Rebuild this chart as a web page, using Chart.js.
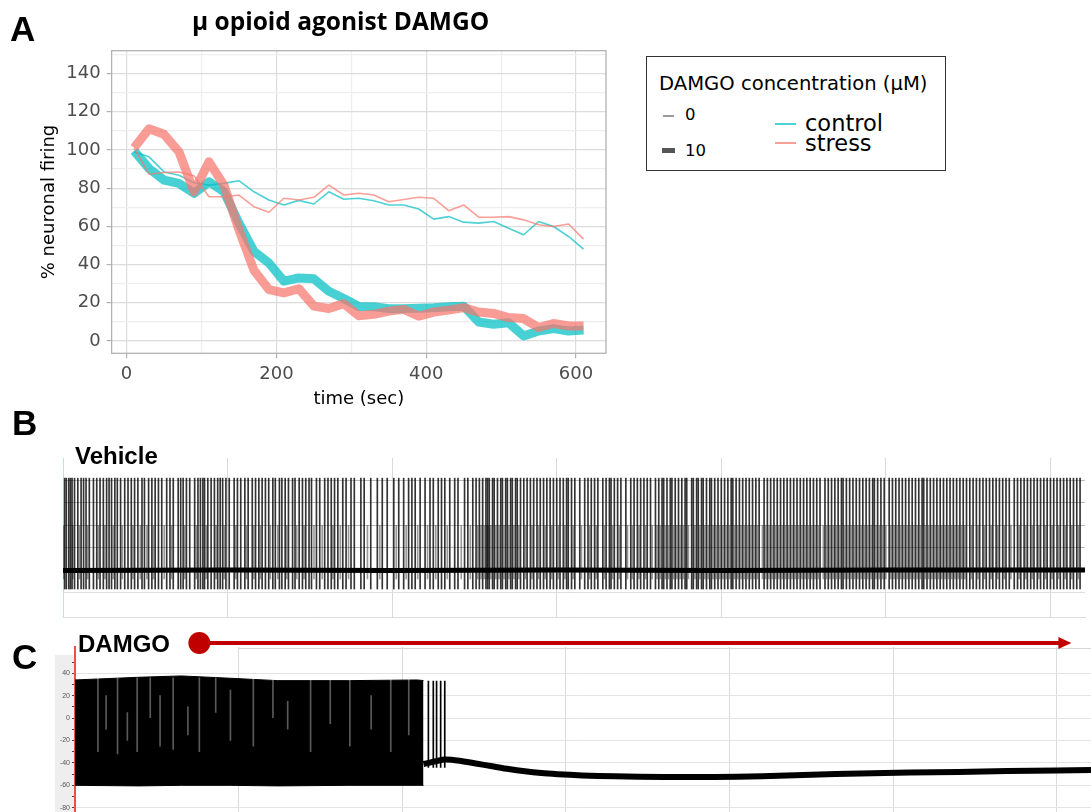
<!DOCTYPE html>
<html>
<head>
<meta charset="utf-8">
<script src="https://cdn.jsdelivr.net/npm/chart.js@4.4.0/dist/chart.umd.min.js"></script>
<style>
  body { margin: 0; background: #fff; width: 1091px; height: 812px; position: relative; overflow: hidden; font-family: "Liberation Sans", Arial, sans-serif; }
  canvas { position: absolute; left: 0; }
  .lbl { position: absolute; white-space: nowrap; line-height: 1; color: #000; }
  .panel { font-weight: bold; font-size: 35px; }
  .trace { font-weight: bold; font-size: 24px; }
  .legend { position: absolute; left: 646px; top: 56px; width: 298px; height: 113px; border: 1px solid #333; }
  .lg { position: absolute; white-space: nowrap; line-height: 1; font-family: "DejaVu Sans", sans-serif; color: #000; }
  .sw { position: absolute; }
</style>
</head>
<body>
<canvas id="chartA" width="640" height="415" style="top:0"></canvas>
<canvas id="chartB" width="1091" height="185" style="top:440px"></canvas>
<canvas id="chartC" width="1091" height="193" style="top:625px"></canvas>

<div class="lbl panel" style="left:10px;top:11px">A</div>
<div class="lbl" style="left:192px;top:9px;font-family:'Open Sans',sans-serif;font-weight:bold;font-size:24.5px">μ opioid agonist DAMGO</div>

<div class="legend"></div>
<div class="lg" style="left:659px;top:74px;font-size:19.6px">DAMGO concentration (μM)</div>
<div class="sw" style="left:663px;top:115px;width:11px;height:1.5px;background:#9a9a9a"></div>
<div class="lg" style="left:685px;top:107px;font-size:16.5px">0</div>
<div class="sw" style="left:662px;top:148px;width:13px;height:5px;background:#555"></div>
<div class="lg" style="left:685px;top:143px;font-size:16.5px">10</div>
<div class="sw" style="left:775px;top:123px;width:21px;height:1.5px;background:rgba(0,191,196,0.7)"></div>
<div class="lg" style="left:805px;top:112px;font-size:22.5px">control</div>
<div class="sw" style="left:775px;top:142px;width:21px;height:1.5px;background:rgba(248,118,109,0.7)"></div>
<div class="lg" style="left:805px;top:132px;font-size:22.5px">stress</div>

<div class="lbl panel" style="left:12px;top:405px">B</div>
<div class="lbl trace" style="left:75px;top:444px">Vehicle</div>

<div class="lbl panel" style="left:12px;top:639px">C</div>
<div class="lbl trace" style="left:78px;top:632px">DAMGO</div>

<script>
  // ---------- panel A : % neuronal firing ----------
  const timeSec = [10, 30, 50, 70, 90, 110, 130, 150, 170, 190, 210, 230, 250, 270, 290, 310, 330, 350, 370, 390, 410, 430, 450, 470, 490, 510, 530, 550, 570, 590, 610];
  const control0 = [99, 96.4, 88.5, 86.8, 82.8, 81.6, 82.5, 83.9, 78.1, 73.8, 71.2, 73.6, 71.7, 78.1, 74.2, 74.7, 73.4, 71.2, 71.2, 69.1, 63.8, 65.1, 62.2, 61.7, 62.5, 59, 55.6, 62.5, 59.9, 54.7, 48.1];
  const stress0 = [101, 87.3, 88.2, 88.5, 86.5, 75.5, 75.5, 76.4, 70.3, 67.4, 74.7, 73.8, 75.2, 81.6, 76.4, 77.3, 76.4, 72.9, 74.1, 75.2, 74.7, 68.2, 71.2, 64.8, 64.8, 65.1, 63.4, 60.8, 59.9, 61.2, 53.3];
  const control10 = [99.5, 90.3, 84.2, 82.5, 77.3, 83.3, 78.1, 61.7, 46.9, 40.8, 31.3, 33, 32.5, 26, 22.2, 18, 17.9, 16.9, 16.9, 17.1, 17.4, 17.9, 18.2, 9.9, 8.7, 9.5, 2.6, 5.2, 6.4, 5.2, 5.7];
  const stress10 = [101.2, 111.1, 108.2, 99, 78.1, 93.8, 81.6, 58.2, 37, 26.9, 25.2, 27.3, 18.2, 17, 19.5, 13.2, 13.9, 15.6, 16.5, 13, 15.1, 16.1, 17.4, 15.1, 14.4, 12.2, 11.7, 7, 9.1, 7.8, 7.8];
  const xTicksA = [0, 100, 200, 300, 400, 500, 600];
  const xLabelsA = [0, 200, 400, 600];
  const yTicksA = [0, 10, 20, 30, 40, 50, 60, 70, 80, 90, 100, 110, 120, 130, 140, 150];
  const yLabelsA = [0, 20, 40, 60, 80, 100, 120, 140];

  // ---------- panel B : vehicle trace (s, mV) ----------
  const spikeTimesB = [0.1, 0.2, 0.35, 0.45, 0.55, 0.7, 0.9, 1.1, 1.25, 1.4, 1.6, 1.85, 2.05, 2.25, 2.45, 2.65, 2.8, 2.95, 3.15, 3.3, 3.5, 3.75, 3.95, 4.15, 4.35, 4.55, 4.8, 4.95, 5.2, 5.4, 5.6, 5.8, 6.0, 6.3, 6.5, 6.7, 7.0, 7.15, 7.3, 7.5, 7.7, 8.0, 8.2, 8.35, 8.5, 8.6, 8.8, 9.0, 9.2, 9.4, 9.55, 9.7, 9.9, 10.1, 10.4, 10.6, 10.8, 11.05, 11.25, 11.5, 11.7, 11.9, 12.1, 12.3, 12.5, 12.75, 12.9, 13.15, 13.3, 13.5, 13.7, 13.95, 14.1, 14.35, 14.55, 14.75, 14.95,
    15.1, 15.4, 15.6, 15.9, 16.1, 16.3, 16.5, 16.7, 17.0, 17.2, 17.5, 17.7, 18.1, 18.3, 18.7, 19.1, 19.4, 19.7, 20.1, 20.4, 20.7, 21.0, 21.2, 21.4, 21.7, 22.0, 22.3, 22.5, 22.8, 23.0, 23.2, 23.5, 23.8, 24.0, 24.4, 24.6, 24.9, 25.1, 25.3, 25.5, 25.7, 25.8, 25.9, 26.1, 26.2, 26.4, 26.6, 26.7, 26.9, 27.0, 27.2, 27.3, 27.5, 27.6, 27.8, 28.0, 28.2, 28.4, 28.6, 28.8, 29.0, 29.2, 29.4, 29.6, 29.8, 30.0, 30.2, 30.4, 30.6,
    30.7, 30.9, 31.1, 31.4, 31.7, 31.9, 32.1, 32.3, 32.5, 32.8, 33.0, 33.2, 33.3, 33.5, 33.7, 33.9, 34.2, 34.5, 34.7, 34.9, 35.1, 35.3, 35.5, 35.7, 36.0, 36.2, 36.4, 36.5, 36.7, 36.9, 37.0, 37.2, 37.4, 37.6, 37.8, 37.9, 38.2, 38.3, 38.5, 38.6, 38.8, 38.9, 39.1, 39.3, 39.4, 39.6, 39.8, 40.0, 40.2, 40.4, 40.6, 40.7, 40.9, 41.1, 41.3, 41.5, 41.7, 41.9, 42.1, 42.3, 42.6, 42.8, 43.0, 43.2, 43.4, 43.6, 43.8, 44.0, 44.2, 44.4, 44.6, 44.8, 45.0, 45.2, 45.4, 45.6, 45.8, 46.0,
    46.3, 46.5, 46.7, 46.9, 47.1, 47.3, 47.4, 47.6, 47.8, 48.0, 48.2, 48.4, 48.6, 48.8, 49.0, 49.2, 49.3, 49.5, 49.7, 49.9, 50.2, 50.4, 50.6, 50.8, 51.0, 51.2, 51.4, 51.6, 51.8, 52.0, 52.2, 52.3, 52.5, 52.7, 52.9, 53.1, 53.3, 53.5, 53.7, 53.9, 54.1, 54.3, 54.5, 54.7, 54.9, 55.1, 55.3, 55.5, 55.7, 55.9, 56.1, 56.3, 56.5, 56.7, 56.9, 57.1, 57.3, 57.5, 57.8, 58.0, 58.2, 58.4, 58.6, 58.8, 59.0, 59.2, 59.4, 59.6, 59.8, 60.0, 60.2, 60.4, 60.6, 60.8, 61.0, 61.2, 61.4, 61.6, 61.8];
  const partialSpikeTimesB = [0.05, 0.6, 1.0, 1.5, 2.15, 2.55, 3.05, 3.6, 4.25, 4.7, 5.1, 5.5, 6.15, 6.6, 7.4, 8.1, 8.7, 9.3, 9.8, 10.5, 11.15, 11.6, 12.0, 12.6, 13.05, 13.6, 14.2, 14.65,
    15.25, 15.75, 16.4, 16.85, 17.35, 18.5, 19.25, 20.25, 20.85, 21.55, 22.15, 22.65, 23.35, 24.2, 24.75, 25.2, 25.4, 25.6, 25.75, 25.85, 26.0, 26.3, 26.5, 26.8, 27.1, 27.4, 27.7, 28.1, 28.5, 28.9, 29.3, 29.7, 30.1, 30.5,
    31.0, 31.5, 32.0, 32.4, 32.9, 33.4, 33.8, 34.3, 34.6, 35.0, 35.4, 35.8, 36.1, 36.3, 36.6, 36.8, 37.1, 37.3, 37.5, 37.7, 38.0, 38.4, 38.7, 39.0, 39.2, 39.5, 39.7, 39.9, 40.1, 40.3, 40.5, 40.8, 41.0, 41.2, 41.4, 41.6, 41.8, 42.0, 42.2, 42.5, 42.7, 42.9, 43.1, 43.3, 43.5, 43.7, 43.9, 44.1, 44.3, 44.5, 44.7, 44.9, 45.1, 45.3, 45.5, 45.7, 45.9,
    46.2, 46.4, 46.6, 46.8, 47.0, 47.2, 47.5, 47.7, 47.9, 48.1, 48.3, 48.5, 48.7, 48.9, 49.1, 49.4, 49.6, 49.8, 50.0, 50.3, 50.5, 50.7, 50.9, 51.1, 51.3, 51.5, 51.7, 51.9, 52.1, 52.4, 52.6, 52.8, 53.0, 53.2, 53.4, 53.6, 53.8, 54.0, 54.2, 54.4, 54.6, 54.8, 55.2, 55.6, 56.0, 56.4, 56.8, 57.2, 57.6, 58.1, 58.5, 58.9, 59.3, 59.7, 60.1, 60.5, 60.9, 61.3, 61.7];
  const spikeRangeB = [-57, 42];
  const partialRangeB = [-48, 0];
  const baselineTimeB = [0, 10, 20, 30, 40, 50, 62.1];
  const baselineB = [-40.5, -40, -40.5, -40, -40.5, -40, -40];

  // ---------- panel C : DAMGO trace (s, mV) ----------
  const burstTimeC = [0, 3.9, 6.5, 9.5, 12.4, 16.7, 20.9, 21.3];
  const burstTopC = [34, 36.4, 37.6, 35.5, 33.4, 33.4, 34, 33.5];
  const burstBottomC = [-60, -60.5, -60, -60, -60.5, -60, -60, -60];
  // short pauses inside the burst where the trace stays low
  const burstGapsC = [1.4, 1.9, 2.6, 3.2, 3.8, 4.6, 5.2, 6.0, 6.9, 7.6, 8.6, 9.5, 10.9, 12.1, 13.0, 14.4, 15.6, 16.8, 18.1, 19.3, 20.4];
  const burstGapTopC = [36, 20, 36, 5, 36, 36, 20, 36, 10, 36, 36, 25, 36, 36, 15, 36, 36, 36, 20, 36, 36];
  const burstGapBottomC = [-30, -10, -32, -20, -30, 0, -25, -28, -15, -30, 5, -20, -25, 0, -10, -30, -5, -25, -10, -30, -15];
  const lateSpikesC = [21.6, 21.9, 22.1, 22.35, 22.6];
  const lateSpikeRangeC = [-44, 33];
  const baselineTimeC = [21.3, 22.6, 23.5, 24.5, 25.5, 26.5, 27.5, 28.5, 29.5, 31, 33, 36, 39, 42, 45, 48, 51, 54, 57, 60, 62.1];
  const baselineC = [-41, -37, -38, -40.5, -43, -45.5, -47.5, -49, -50, -51.2, -52, -52.5, -52.5, -52, -50.5, -49.5, -48.5, -48, -47.3, -46.8, -46.3];
  const damgoStart = 7.6;
  const damgoEnd = 60.9;
  const yLabelsC = [40, 20, 0, -20, -40, -60, -80];

  const pairs = (xs, ys) => xs.map((x, i) => ({ x: x, y: ys[i] }));

  // grey panel border like ggplot theme_light
  const panelBorder = {
    id: "panelBorder",
    afterDatasetsDraw(chart) {
      const { ctx, chartArea } = chart;
      ctx.save();
      ctx.strokeStyle = "#b3b3b3";
      ctx.lineWidth = 1.3;
      ctx.strokeRect(chartArea.left, chartArea.top, chartArea.width, chartArea.height);
      ctx.restore();
    },
  };

  const lineStyle = (color, width) => ({
    borderColor: color,
    borderWidth: width,
    pointRadius: 0,
    tension: 0,
    fill: false,
    borderJoinStyle: "round",
    borderCapStyle: "butt",
  });

  const chartA = new Chart(document.getElementById("chartA"), {
    type: "line",
    data: {
      datasets: [
        { label: "stress 0", data: pairs(timeSec, stress0), ...lineStyle("rgba(248,118,109,0.7)", 1.6) },
        { label: "stress 10", data: pairs(timeSec, stress10), ...lineStyle("rgba(248,118,109,0.72)", 9) },
        { label: "control 0", data: pairs(timeSec, control0), ...lineStyle("rgba(0,191,196,0.7)", 1.6) },
        { label: "control 10", data: pairs(timeSec, control10), ...lineStyle("rgba(0,191,196,0.72)", 9) },
      ],
    },
    options: {
      responsive: false,
      animation: false,
      events: [],
      layout: { padding: { left: 38, top: 50.7, right: 34, bottom: 0 } },
      plugins: { legend: { display: false }, tooltip: { enabled: false } },
      scales: {
        x: {
          type: "linear",
          min: -20,
          max: 640,
          afterBuildTicks: (axis) => { axis.ticks = xTicksA.map((v) => ({ value: v })); },
          afterFit: (axis) => { axis.height = 61.7; },
          border: { display: false },
          grid: {
            color: (c) => (xLabelsA.includes(c.tick.value) ? "#dcdcdc" : "#eeeeee"),
            tickColor: (c) => (xLabelsA.includes(c.tick.value) ? "#b3b3b3" : "transparent"),
            tickLength: 5,
            lineWidth: 1.2,
          },
          ticks: {
            autoSkip: false,
            maxRotation: 0,
            padding: 5,
            color: "#4d4d4d",
            font: { family: "DejaVu Sans", size: 18 },
            callback: (v) => (xLabelsA.includes(v) ? v : ""),
          },
          title: {
            display: true,
            text: "time (sec)",
            color: "#000",
            font: { family: "DejaVu Sans", size: 18 },
            padding: { top: 0, bottom: 5 },
          },
        },
        y: {
          type: "linear",
          min: -6.5,
          max: 152,
          afterBuildTicks: (axis) => { axis.ticks = yTicksA.map((v) => ({ value: v })); },
          afterFit: (axis) => { axis.width = 73.6; },
          border: { display: false },
          grid: {
            color: (c) => (yLabelsA.includes(c.tick.value) ? "#dcdcdc" : "#eeeeee"),
            tickColor: (c) => (yLabelsA.includes(c.tick.value) ? "#b3b3b3" : "transparent"),
            tickLength: 5,
            lineWidth: 1.2,
          },
          ticks: {
            autoSkip: false,
            padding: 6,
            color: "#4d4d4d",
            font: { family: "DejaVu Sans", size: 18 },
            callback: (v) => (yLabelsA.includes(v) ? v : ""),
          },
          title: {
            display: true,
            text: "% neuronal firing",
            color: "#000",
            font: { family: "DejaVu Sans", size: 18 },
            padding: { top: 1, bottom: 0 },
          },
        },
      },
    },
    plugins: [panelBorder],
  });

  // ---------- panel B ----------
  const chartB = new Chart(document.getElementById("chartB"), {
    type: "bar",
    data: {
      datasets: [
        {
          type: "line",
          data: pairs(baselineTimeB, baselineB),
          borderColor: "#000",
          borderWidth: 5,
          pointRadius: 0,
          tension: 0,
        },
        {
          data: spikeTimesB.map((t) => ({ x: t, y: spikeRangeB })),
          backgroundColor: "rgba(0,0,0,0.8)",
          barThickness: 1,
          grouped: false,
        },
        {
          data: partialSpikeTimesB.map((t) => ({ x: t, y: partialRangeB })),
          backgroundColor: "rgba(0,0,0,0.4)",
          barThickness: 1,
          grouped: false,
        },
      ],
    },
    options: {
      responsive: false,
      animation: false,
      events: [],
      layout: { padding: { left: 63, top: 18, right: 6, bottom: 8 } },
      plugins: { legend: { display: false }, tooltip: { enabled: false } },
      scales: {
        x: {
          type: "linear",
          min: 0,
          max: 62.1,
          offset: false,
          afterBuildTicks: (axis) => { axis.ticks = [10, 20, 30, 40, 50, 60].map((v) => ({ value: v })); },
          afterFit: (axis) => { axis.height = 0; },
          ticks: { display: false },
          grid: { color: "#d9d9d9", drawTicks: false, offset: false },
          border: { color: "#dedede" },
        },
        y: {
          min: -82,
          max: 60,
          afterBuildTicks: (axis) => { axis.ticks = [-60, -40, -20, 0, 20, 40].map((v) => ({ value: v })); },
          afterFit: (axis) => { axis.width = 0; },
          ticks: { display: false },
          grid: { color: (c) => (c.tick.value >= -20 ? "#b8b8b8" : "#dedede"), drawTicks: false },
          border: { color: "#b9e2e2" },
        },
      },
    },
  });

  // ---------- panel C ----------
  const damgoArrow = {
    id: "damgoArrow",
    beforeDraw(chart) {
      const { ctx, chartArea: a, scales } = chart;
      const yAxis = scales.y;
      ctx.save();
      ctx.fillStyle = "#eeeeee";
      ctx.fillRect(yAxis.left, a.top + 8, yAxis.width, a.bottom - a.top - 8);
      ctx.restore();
    },
    afterDraw(chart) {
      const { ctx, chartArea: a, scales } = chart;
      const x = scales.x;
      ctx.save();
      // top frame of the recording window
      ctx.strokeStyle = "#d6d6d6";
      ctx.lineWidth = 1;
      ctx.beginPath();
      ctx.moveTo(x.getPixelForValue(10), a.top + 1.5);
      ctx.lineTo(a.right, a.top + 1.5);
      ctx.stroke();
      // DAMGO application arrow
      const y0 = a.top - 4;
      const x0 = x.getPixelForValue(damgoStart);
      const x1 = x.getPixelForValue(damgoEnd);
      ctx.strokeStyle = "#c00000";
      ctx.fillStyle = "#c00000";
      ctx.lineWidth = 4;
      ctx.beginPath();
      ctx.moveTo(x0, y0);
      ctx.lineTo(x1 - 12, y0);
      ctx.stroke();
      ctx.beginPath();
      ctx.moveTo(x1, y0);
      ctx.lineTo(x1 - 13, y0 - 6);
      ctx.lineTo(x1 - 13, y0 + 6);
      ctx.closePath();
      ctx.fill();
      ctx.beginPath();
      ctx.ellipse(x0, y0, 11, 11, 0, 0, Math.PI * 2);
      ctx.fill();
      ctx.restore();
    },
  };

  const chartC = new Chart(document.getElementById("chartC"), {
    type: "bar",
    data: {
      datasets: [
        {
          data: burstGapsC.map((t, i) => ({ x: t, y: [burstGapBottomC[i], burstGapTopC[i]] })),
          backgroundColor: "rgba(255,255,255,0.35)",
          barThickness: 1,
          grouped: false,
        },
        {
          type: "line",
          data: pairs(burstTimeC, burstTopC),
          borderColor: "#000",
          borderWidth: 1,
          backgroundColor: "#000",
          pointRadius: 0,
          tension: 0,
          fill: "+1",
        },
        {
          type: "line",
          data: pairs(burstTimeC, burstBottomC),
          borderColor: "#000",
          borderWidth: 1,
          pointRadius: 0,
          tension: 0,
          fill: false,
        },
        {
          type: "line",
          data: pairs(baselineTimeC, baselineC),
          borderColor: "#000",
          borderWidth: 6,
          pointRadius: 0,
          tension: 0.2,
          fill: false,
        },
        {
          data: lateSpikesC.map((t) => ({ x: t, y: lateSpikeRangeC })),
          backgroundColor: "#000",
          barThickness: 1,
          grouped: false,
        },
      ],
    },
    options: {
      responsive: false,
      animation: false,
      events: [],
      layout: { padding: { left: 55, top: 22, right: 0, bottom: 0 } },
      plugins: { legend: { display: false }, tooltip: { enabled: false } },
      scales: {
        x: {
          type: "linear",
          min: 0,
          max: 62.1,
          offset: false,
          afterBuildTicks: (axis) => { axis.ticks = [10, 20, 30, 40, 50, 60].map((v) => ({ value: v })); },
          afterFit: (axis) => { axis.height = 0; },
          ticks: { display: false },
          grid: { color: "#dadada", drawTicks: false, offset: false },
          border: { display: false },
        },
        y: {
          min: -83.6,
          max: 63.4,
          afterBuildTicks: (axis) => { axis.ticks = [-80, -70, -60, -50, -40, -30, -20, -10, 0, 10, 20, 30, 40, 50].map((v) => ({ value: v })); },
          afterFit: (axis) => { axis.width = 20; },
          ticks: {
            autoSkip: false,
            padding: 2,
            color: "#555",
            font: { size: 7 },
            callback: (v) => (yLabelsC.includes(v) ? v : ""),
          },
          grid: {
            color: (c) => (yLabelsC.includes(c.tick.value) ? "#e4e4e4" : "transparent"),
            tickColor: "#444",
            tickLength: 3,
          },
          border: { color: "#e8514f", width: 2 },
        },
      },
    },
    plugins: [damgoArrow],
  });
</script>
</body>
</html>
